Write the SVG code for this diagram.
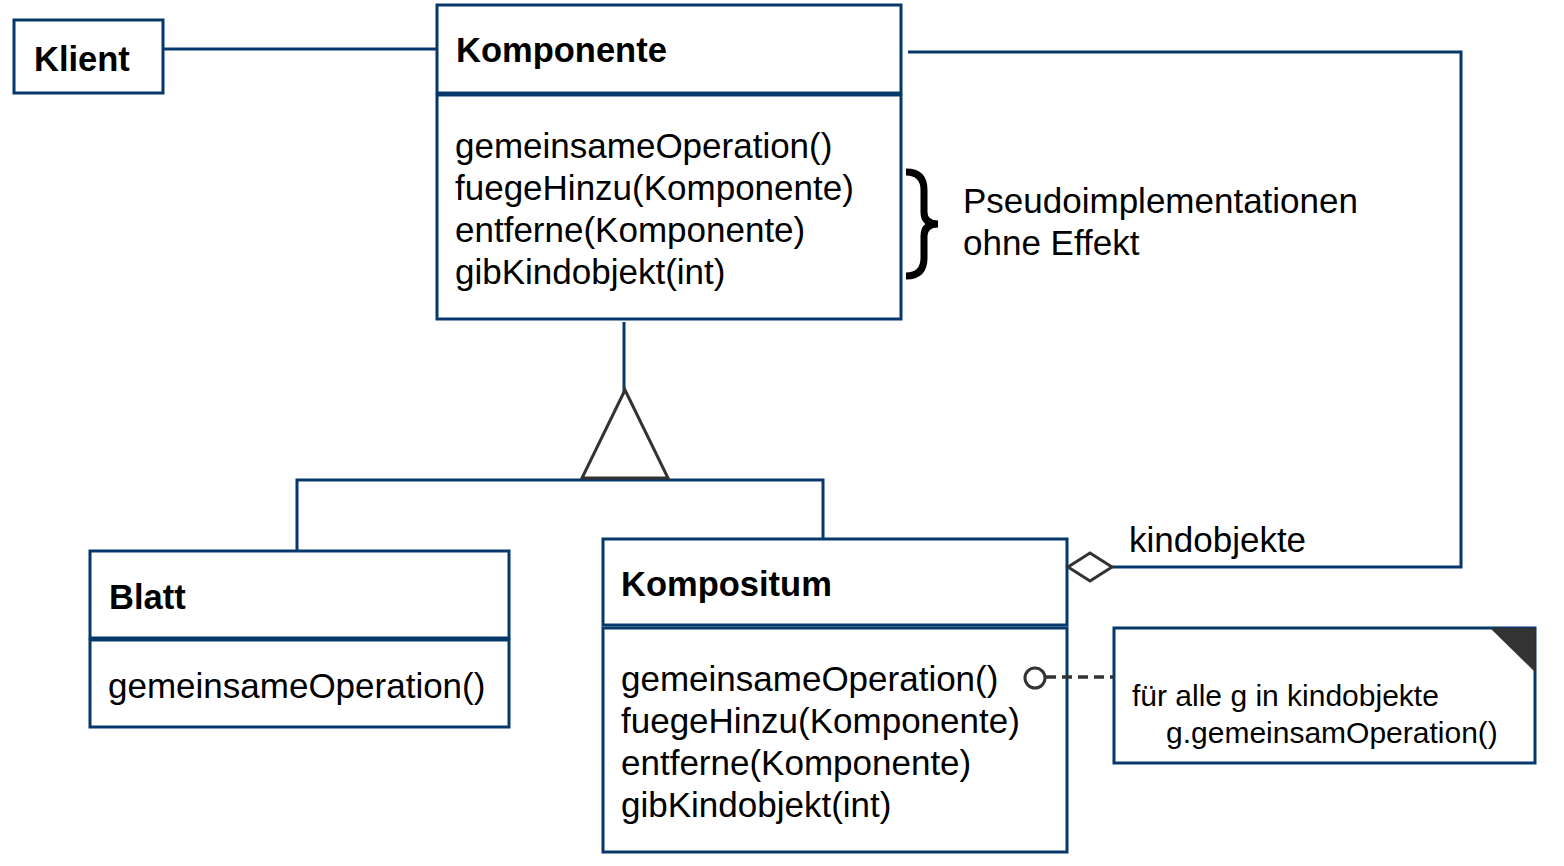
<svg xmlns="http://www.w3.org/2000/svg" width="1564" height="866" viewBox="0 0 1564 866">
<style>
.box{fill:#fff;stroke:#06386b;stroke-width:3}
.ln{fill:none;stroke:#06386b;stroke-width:3}
.sym{fill:#fff;stroke:#333;stroke-width:3}
.t{font-family:"Liberation Sans",Arial,sans-serif;font-size:35px;fill:#000}
.b{font-weight:bold;font-size:34.5px}
.n{font-size:30px}
</style>
<rect width="1564" height="866" fill="#fff"/>
<g id="klient">
<rect class="box" x="14" y="20" width="149" height="73"/>
<text class="t b" x="34" y="71">Klient</text>
</g>
<g id="komponente">
<rect class="box" x="437" y="5" width="464" height="88"/>
<rect class="box" x="437" y="95" width="464" height="224"/>
<text class="t b" x="456" y="62">Komponente</text>
<text class="t" x="455" y="158">gemeinsameOperation()</text>
<text class="t" x="455" y="200">fuegeHinzu(Komponente)</text>
<text class="t" x="455" y="242">entferne(Komponente)</text>
<text class="t" x="455" y="284">gibKindobjekt(int)</text>
</g>
<g id="brace">
<path d="M906,172 Q924,172 924,190 L924,212 Q924,224 938,224 Q924,224 924,236 L924,258 Q924,276 906,276" fill="none" stroke="#000" stroke-width="7"/>
<text class="t" x="963" y="213">Pseudoimplementationen</text>
<text class="t" x="963" y="255">ohne Effekt</text>
</g>
<g id="blatt">
<rect class="box" x="90" y="551" width="419" height="87"/>
<rect class="box" x="90" y="640" width="419" height="87"/>
<text class="t b" x="109" y="609">Blatt</text>
<text class="t" x="108" y="698">gemeinsameOperation()</text>
</g>
<g id="kompositum">
<rect class="box" x="603" y="539" width="464" height="86"/>
<rect class="box" x="603" y="628" width="464" height="224"/>
<text class="t b" x="621" y="596">Kompositum</text>
<text class="t" x="621" y="691">gemeinsameOperation()</text>
<text class="t" x="621" y="733">fuegeHinzu(Komponente)</text>
<text class="t" x="621" y="775">entferne(Komponente)</text>
<text class="t" x="621" y="817">gibKindobjekt(int)</text>
</g>
<g id="note">
<rect class="box" x="1114" y="628" width="421" height="135"/>
<polygon points="1490,628 1535,628 1535,672" fill="#333"/>
<text class="t n" x="1132" y="706">für alle g in kindobjekte</text>
<text class="t n" x="1166" y="743">g.gemeinsamOperation()</text>
</g>
<g id="connectors">
<line class="ln" x1="163" y1="49" x2="437" y2="49"/>
<polyline class="ln" points="908,52 1461,52 1461,567 1112,567"/>
<line class="ln" x1="624" y1="322" x2="624" y2="392"/>
<polyline class="ln" points="297,551 297,480 823,480 823,539"/>
<polygon class="sym" points="625,390 668,478 582,478"/>
<polygon class="sym" points="1068,567 1090,553 1112,567 1090,581"/>
<line x1="1046" y1="677" x2="1114" y2="677" stroke="#333" stroke-width="3.5" stroke-dasharray="10,6"/>
<circle class="sym" cx="1035" cy="678" r="10"/>
<text class="t" x="1129" y="552">kindobjekte</text>
</g>
</svg>
